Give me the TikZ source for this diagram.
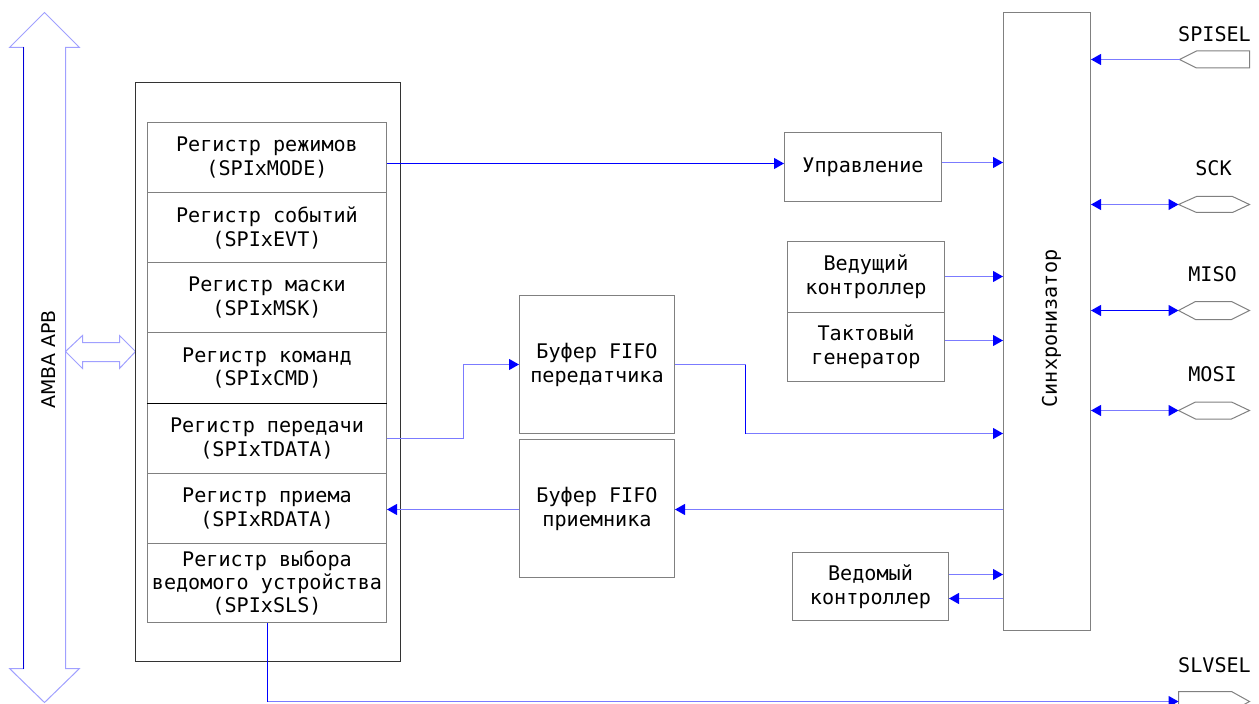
\documentclass[tikz,border=0pt]{standalone}
\usepackage{fontspec}
\setmainfont{DejaVu Sans Mono}
\newfontfamily\busfont{DejaVu Sans}
\usetikzlibrary{arrows.meta}
\definecolor{boxgray}{HTML}{808080}
\definecolor{buslight}{HTML}{A0A0FF}
\definecolor{wirelight}{HTML}{7B7BFF}
\tikzset{
  >={Triangle[length=10bp,width=11bp,color=blue]},
  blk/.style={draw=boxgray, line width=1bp, inner sep=0pt, align=center,
    font=\fontsize{20.2}{24}\selectfont},
  reg/.style={blk, minimum width=239bp},
  wire/.style={draw=blue, line width=1bp},
  lwire/.style={draw=wirelight, line width=1bp},
  pin/.style={draw=boxgray, line width=1bp, fill=white},
  lbl/.style={font=\fontsize{20.2}{24}\selectfont, inner sep=0pt}
}
\begin{document}
\begin{tikzpicture}[x=1bp, y=-1bp]
\useasboundingbox (-0.5,-0.5) rectangle (1258.5,703.5);

% system bus
\draw[buslight, line width=1bp] (44,12) -- (79,47) -- (65,47) -- (65,668) -- (79,668)
  -- (44,702) -- (9,668) -- (23,668) -- (23,47) -- (9,47) -- cycle;
\draw[blue!85!black, line width=1bp] (23,47) -- (23,668);
\node[rotate=90, font=\busfont\fontsize{19}{22}\selectfont, inner sep=0pt] (bus) at (48,359) {AMBA APB};

% bus interface
\draw[buslight, line width=1bp] (65,351) -- (82,335) -- (82,342) -- (119,342) -- (119,335)
  -- (135,351) -- (119,368) -- (119,361) -- (82,361) -- (82,368) -- cycle;

% register file
\node[draw=black!80, line width=1bp, minimum width=265bp, minimum height=579bp, inner sep=0pt]
  (regs) at (267.5,371.5) {};
\node[reg, minimum height=70bp] (mode) at (266.5,157)   {Регистр режимов\\(SPIxMODE)};
\node[reg, minimum height=70bp] (evt)  at (266.5,227)   {Регистр событий\\(SPIxEVT)};
\node[reg, minimum height=70bp] (msk)  at (266.5,297)   {Регистр маски\\(SPIxMSK)};
\node[reg, minimum height=71bp] (cmd)  at (266.5,367.5) {Регистр команд\\(SPIxCMD)};
\node[reg, minimum height=70bp] (tdata) at (266.5,438)  {Регистр передачи\\(SPIxTDATA)};
\node[reg, minimum height=70bp] (rdata) at (266.5,508)  {Регистр приема\\(SPIxRDATA)};
\node[reg, minimum height=79bp, font=\fontsize{20.2}{23}\selectfont] (sls) at (266.5,582.5)
  {Регистр выбора\\ведомого устройства\\(SPIxSLS)};
\draw[black, line width=1bp] (tdata.north west) -- (tdata.north east);

% FIFO buffers
\node[blk, minimum width=155bp, minimum height=138bp] (txfifo) at (596.5,364) {Буфер FIFO\\передатчика};
\node[blk, minimum width=155bp, minimum height=138bp] (rxfifo) at (596.5,508) {Буфер FIFO\\приемника};

% control blocks
\node[blk, minimum width=157bp, minimum height=69bp] (ctrl) at (862.5,166.5) {Управление};
\node[blk, minimum width=157bp, minimum height=71bp] (master) at (865.5,276.5) {Ведущий\\контроллер};
\node[blk, minimum width=157bp, minimum height=69bp] (clk) at (865.5,346.5) {Тактовый\\генератор};
\node[blk, minimum width=156bp, minimum height=68bp] (slave) at (870,586) {Ведомый\\контроллер};

% synchronizer
\node[blk, minimum width=87bp, minimum height=618bp] (sync) at (1046.5,321) {};
\node[lbl, rotate=90] (synclbl) at (1051,328) {Синхронизатор};

% external pins
\draw[pin] (1179,59) -- (1196,50.5) -- (1249,50.5) -- (1249,67.5) -- (1196,67.5) -- cycle;
\coordinate (spisel) at (1179,59);
\draw[pin] (1178,204) -- (1196,196) -- (1232,196) -- (1249,204) -- (1232,212) -- (1196,212) -- cycle;
\coordinate (sck) at (1178,204);
\draw[pin] (1178,310) -- (1195,301) -- (1231,301) -- (1249,310) -- (1231,319) -- (1195,319) -- cycle;
\coordinate (miso) at (1178,310);
\draw[pin] (1178,410) -- (1195,401.5) -- (1231,401.5) -- (1249,410) -- (1231,418.5) -- (1195,418.5) -- cycle;
\coordinate (mosi) at (1178,410);
\draw[pin] (1178,691) -- (1231,691) -- (1249,701) -- (1231,711) -- (1178,711) -- cycle;
\coordinate (slvsel) at (1178,701);

\node[lbl] (spisellbl) at (1214,34)  {SPISEL};
\node[lbl] (scklbl)    at (1213,168) {SCK};
\node[lbl] (misolbl)   at (1212,274) {MISO};
\node[lbl] (mosilbl)   at (1212,374) {MOSI};
\node[lbl] (slvsellbl) at (1214,665) {SLVSEL};

% connections
\draw[wire, ->] (mode.east |- 0,163) -- (ctrl.west |- 0,163);
\draw[lwire, ->] (ctrl.east |- 0,162) -- (sync.west |- 0,162);
\draw[lwire, ->] (master.east |- 0,276) -- (sync.west |- 0,276);
\draw[lwire, ->] (clk.east |- 0,340) -- (sync.west |- 0,340);
\draw[lwire, ->] (tdata.east |- 0,438) -- (463,438) |- (txfifo.west |- 0,364);
\draw[lwire, ->] (txfifo.east |- 0,364) -- (745,364) |- (sync.west |- 0,433);
\draw[wire] (745,364) -- (745,433);
\draw[lwire, ->] (sync.west |- 0,509) -- (rxfifo.east |- 0,509);
\draw[lwire, ->] (rxfifo.west |- 0,509) -- (rdata.east |- 0,509);
\draw[lwire, ->] (slave.east |- 0,574) -- (sync.west |- 0,574);
\draw[lwire, ->] (sync.west |- 0,598) -- (slave.east |- 0,598);
\draw[lwire, ->] (sls.south) |- (slvsel);
\draw[wire] (sls.south) -- (sls.south |- slvsel);
\draw[lwire, ->] (spisel) -- (sync.east |- spisel);
\draw[lwire, <->] (sync.east |- sck) -- (sck);
\draw[wire, <->] (sync.east |- miso) -- (miso);
\draw[lwire, <->] (sync.east |- mosi) -- (mosi);
\end{tikzpicture}
\end{document}
